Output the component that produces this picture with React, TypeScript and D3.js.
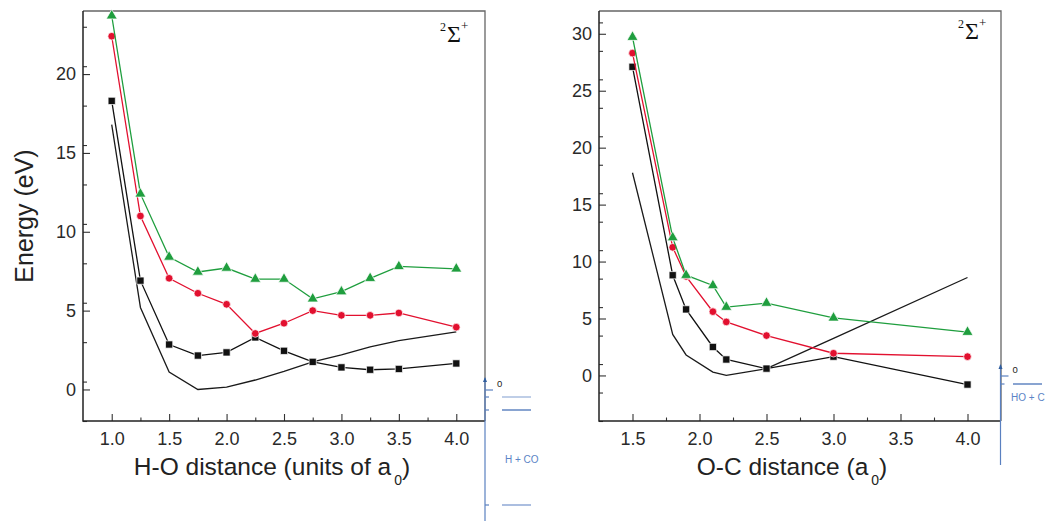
import * as d3 from 'd3'
import { useEffect, useRef } from 'react'

// H-O distance panel (units of a0)
const hoDist = [1.0, 1.25, 1.5, 1.75, 2.0, 2.25, 2.5, 2.75, 3.0, 3.25, 3.5, 4.0]
const hoGreen = [23.7, 12.4, 8.4, 7.45, 7.7, 7.0, 7.0, 5.75, 6.2, 7.05, 7.8, 7.65]
const hoRed = [22.4, 11.0, 7.05, 6.1, 5.4, 3.55, 4.2, 5.0, 4.7, 4.7, 4.85, 3.95]
const hoBlack = [18.3, 6.9, 2.85, 2.15, 2.35, 3.3, 2.45, 1.75, 1.4, 1.25, 1.3, 1.65]
const hoPlain = [16.8, 5.2, 1.1, 0.0, 0.15, 0.6, 1.15, 1.75, 2.2, 2.7, 3.1, 3.65]

// O-C distance panel (a0)
const ocDist = [1.5, 1.8, 1.9, 2.1, 2.2, 2.5, 3.0, 4.0]
const ocGreen = [29.7, 12.1, 8.8, 7.9, 6.0, 6.35, 5.05, 3.8]
const ocRed = [28.3, 11.25, 8.7, 5.6, 4.7, 3.5, 1.95, 1.65]
const ocBlack = [27.1, 8.8, 5.8, 2.5, 1.4, 0.6, 1.65, -0.8]
const ocPlain = [17.8, 3.6, 1.8, 0.3, 0.0, 0.6, 3.25, 8.6]

const hoTicks = [1.0, 1.5, 2.0, 2.5, 3.0, 3.5, 4.0]
const ocTicks = [1.5, 2.0, 2.5, 3.0, 3.5, 4.0]
const hoYTicks = [0, 5, 10, 15, 20]
const ocYTicks = [0, 5, 10, 15, 20, 25, 30]

const GREEN = '#1f9e3e'
const RED = '#e2102f'
const BLUE = '#5a80c0'

function panel(svg, o) {
    const x = d3.scaleLinear().domain(o.xDomain).range([o.left, o.right])
    const y = d3.scaleLinear().domain(o.yDomain).range([o.bottom, o.top])
    const g = svg.append('g')

    // minor ticks
    const xMinor = d3.range(o.xDomain[0] + 0.25, o.xDomain[1], 0.25).filter(v => Math.abs(v * 2 - Math.round(v * 2)) > 0.01)
    const yMinor = d3.range(o.yDomain[0], o.yDomain[1], 2.5).filter(v => Math.abs(v / 5 - Math.round(v / 5)) > 0.01)

    const xa = g.append('g').attr('transform', `translate(0,${o.bottom})`)
        .call(d3.axisBottom(x).tickValues(o.xTicks).tickSize(-7).tickSizeOuter(0).tickPadding(11).tickFormat(d3.format('.1f')))
    const xm = g.append('g').attr('transform', `translate(0,${o.bottom})`)
        .call(d3.axisBottom(x).tickValues(xMinor).tickSize(-3.5).tickSizeOuter(0).tickFormat(() => ''))
    const ya = g.append('g').attr('transform', `translate(${o.left},0)`)
        .call(d3.axisLeft(y).tickValues(o.yTicks).tickSize(-7).tickSizeOuter(0).tickPadding(7))
    const ym = g.append('g').attr('transform', `translate(${o.left},0)`)
        .call(d3.axisLeft(y).tickValues(yMinor).tickSize(-4).tickSizeOuter(0).tickFormat(() => ''))
    for (const a of [xa, xm, ya, ym]) {
        a.select('.domain').remove()
        a.selectAll('line').attr('stroke', '#333').attr('stroke-width', 1.1)
        a.selectAll('text').attr('font-family', 'Liberation Sans, Arial, sans-serif')
            .attr('font-size', 18).attr('fill', '#2a2a2a')
    }

    // frame
    g.append('path').attr('d', `M${o.left},${o.top}H${o.right}V${o.bottom}`)
        .attr('fill', 'none').attr('stroke', '#666').attr('stroke-width', 1.3)
    g.append('path').attr('d', `M${o.left},${o.top}V${o.bottom}H${o.right}`)
        .attr('fill', 'none').attr('stroke', '#222').attr('stroke-width', 1.5)

    const line = d3.line().x((d, i) => x(o.xs[i])).y(d => y(d))

    g.append('path').attr('d', line(o.plain)).attr('fill', 'none').attr('stroke', '#1a1a1a').attr('stroke-width', 1.3)

    const series = [
        { v: o.black, c: '#111', sym: d3.symbolSquare, size: 52 },
        { v: o.red, c: RED, sym: d3.symbolCircle, size: 46 },
        { v: o.green, c: GREEN, sym: d3.symbolTriangle, size: 52 },
    ]
    series.forEach(s => {
        g.append('path').attr('d', line(s.v)).attr('fill', 'none').attr('stroke', s.c).attr('stroke-width', 1.3)
        g.selectAll(null).data(s.v).enter().append('path')
            .attr('d', d3.symbol().type(s.sym).size(s.size)())
            .attr('transform', (d, i) => `translate(${x(o.xs[i])},${y(d)})`)
            .attr('fill', s.c).attr('stroke', '#fff').attr('stroke-width', 0.7)
    })

    // state label
    const lab = g.append('text').attr('font-family', 'Liberation Serif, Times New Roman, serif').attr('fill', '#111')
        .attr('x', o.labX).attr('y', o.labY)
    lab.append('tspan').attr('font-size', 12).attr('dy', -11).text('2')
    lab.append('tspan').attr('font-size', 24).attr('dy', 11).attr('dx', 1).text('Σ')
    lab.append('tspan').attr('font-size', 13).attr('dy', -12).text('+')

    // x title
    const t = g.append('text').attr('font-family', 'Liberation Sans, Arial, sans-serif').attr('fill', '#222')
        .attr('font-size', 24.5).attr('text-anchor', 'middle').attr('x', o.titleX).attr('y', 475)
    t.append('tspan').text(o.title)
    t.append('tspan').attr('font-size', 14).attr('dy', 10).attr('dx', 3).text('0')
    t.append('tspan').attr('dy', -10).text(')')
}

// small energy ladder drawn beside each panel
function ladder(svg, o) {
    const g = svg.append('g').attr('stroke', BLUE).attr('fill', 'none')
    g.append('line').attr('x1', o.x).attr('x2', o.x).attr('y1', o.y0).attr('y2', o.y1).attr('stroke-width', 1.2)
    g.append('path').attr('d', `M${o.x - 2},${o.y0 + 4}L${o.x},${o.y0 - 1}L${o.x + 2},${o.y0 + 4}Z`).attr('fill', '#2f5d9e').attr('stroke', 'none')
    g.append('line').attr('x1', o.x).attr('x2', o.x + 8).attr('y1', o.zero).attr('y2', o.zero).attr('stroke-width', 1.2)
    o.ticks.forEach(v => {
        g.append('line').attr('x1', o.x).attr('x2', o.x + 4).attr('y1', v).attr('y2', v).attr('stroke-width', 1.2)
    })
    o.levels.forEach((v, i) => {
        g.append('line').attr('x1', o.lx).attr('x2', o.lx + 29).attr('y1', v).attr('y2', v)
            .attr('stroke', o.levelColors[i]).attr('stroke-width', 1.3)
    })
    svg.append('text').attr('x', o.x + 12).attr('y', o.zero - 3).attr('font-size', 9.5)
        .attr('font-family', 'Liberation Sans, Arial, sans-serif').attr('fill', '#222').text('0')
    svg.append('text').attr('x', o.tx).attr('y', o.ty).attr('font-size', 10)
        .attr('font-family', 'Liberation Sans, Arial, sans-serif').attr('fill', '#5b84c6').text(o.text)
}

function makeChart(el) {
    const svg = d3.select(el)
    svg.selectAll('*').remove()

    panel(svg, {
        left: 83, right: 485, top: 11, bottom: 421,
        xDomain: [0.75, 4.25], yDomain: [-2, 24],
        xTicks: hoTicks, yTicks: hoYTicks,
        xs: hoDist, green: hoGreen, red: hoRed, black: hoBlack, plain: hoPlain,
        labX: 440, labY: 42, title: 'H-O distance (units of a', titleX: 272,
    })
    panel(svg, {
        left: 599, right: 1001, top: 11, bottom: 421,
        xDomain: [1.25, 4.25], yDomain: [-4, 32],
        xTicks: ocTicks, yTicks: ocYTicks,
        xs: ocDist, green: ocGreen, red: ocRed, black: ocBlack, plain: ocPlain,
        labX: 958, labY: 39, title: 'O-C distance (a', titleX: 792,
    })

    svg.append('text').attr('transform', 'translate(33,216) rotate(-90)')
        .attr('text-anchor', 'middle').attr('font-size', 25)
        .attr('font-family', 'Liberation Sans, Arial, sans-serif').attr('fill', '#222')
        .text('Energy (eV)')

    ladder(svg, {
        x: 485, y0: 378, y1: 521, zero: 390, ticks: [397, 410, 505],
        lx: 502, levels: [397, 410, 505], levelColors: ['#9db3da', '#4a73b8', '#7d9bd0'],
        tx: 505, ty: 463, text: 'H + CO',
    })
    ladder(svg, {
        x: 1000.5, y0: 365, y1: 465, zero: 376, ticks: [384],
        lx: 1013, levels: [384], levelColors: ['#4a73b8'],
        tx: 1011, ty: 401, text: 'HO + C',
    })
}

function App() {
    const ref = useRef(null)
    useEffect(() => {
        makeChart(ref.current)
    }, [])

    return (
        <svg ref={ref} width="1048" height="521"
            style={{ position: 'absolute', left: 0, top: 0, background: '#fff' }}>
        </svg>
    )
}

export default App
